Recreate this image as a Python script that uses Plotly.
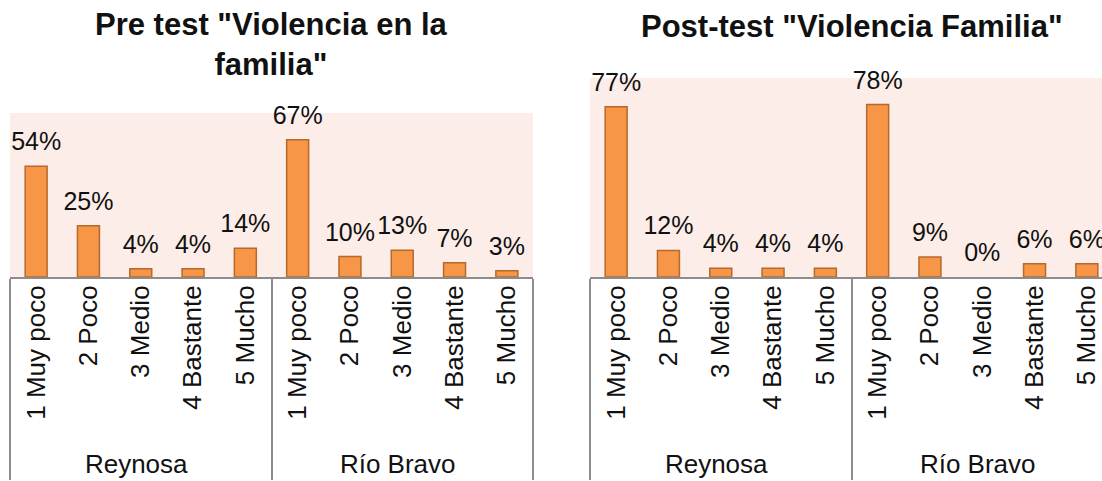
import plotly.graph_objects as go

# ---- data ----
groups = ["Reynosa"] * 5 + ["Río Bravo"] * 5
levels = ["1 Muy poco", "2 Poco", "3 Medio", "4 Bastante", "5 Mucho"] * 2
pre_values = [0.54, 0.25, 0.04, 0.04, 0.14, 0.67, 0.10, 0.13, 0.07, 0.03]
post_values = [0.77, 0.12, 0.04, 0.04, 0.04, 0.78, 0.09, 0.00, 0.06, 0.06]
pre_title = 'Pre test "Violencia en la<br>familia"'
post_title = 'Post-test "Violencia Familia"'

W, H = 1102, 481
FONT = "Liberation Sans, Arial, sans-serif"
BAR = "#F79646"
BAR_LINE = "#B5692C"
AXIS = "#8C8C8C"
TXT = "#111111"

fig = go.Figure()


def add_chart(values, xa, ya):
    fig.add_trace(go.Bar(
        x=[groups, levels], y=values, xaxis=xa, yaxis=ya, width=0.42,
        marker=dict(color=BAR, line=dict(color=BAR_LINE,
                                         width=[1.5 if v > 0 else 0 for v in values])),
        hoverinfo="skip", showlegend=False))
    fig.add_trace(go.Scatter(
        x=[groups, levels], y=values, xaxis=xa, yaxis=ya,
        mode="markers+text", text=[f"{round(v * 100)}%" for v in values],
        textposition="top center", marker=dict(size=14, opacity=0),
        textfont=dict(family=FONT, size=25, color=TXT),
        cliponaxis=False, hoverinfo="skip", showlegend=False))


add_chart(pre_values, "x", "y")
add_chart(post_values, "x2", "y2")

axis_x = dict(type="multicategory", showline=True, linecolor=AXIS, linewidth=2,
              ticks="", tickangle=-90, showgrid=False, zeroline=False,
              ticklabelstandoff=-4,
              tickfont=dict(family=FONT, size=26, color=TXT),
              showdividers=True, dividercolor=AXIS, dividerwidth=2)
axis_y = dict(showticklabels=False, showgrid=False, zeroline=False, showline=False, ticks="")

slot = 523 / 10
fig.update_layout(
    width=W, height=H,
    margin=dict(l=0, r=0, t=0, b=204),
    paper_bgcolor="white", plot_bgcolor="#FCEDE8",
    xaxis=dict(axis_x, domain=[10 / W, 533 / W], anchor="y", range=[-0.5, 9.5]),
    yaxis=dict(axis_y, domain=[0, 164 / 277], range=[0, 0.8]),
    xaxis2=dict(axis_x, domain=[590 / W, 1.0], anchor="y2",
                range=[-0.5, 9.5 - (590 + 523 - W) / slot]),
    yaxis2=dict(axis_y, domain=[0, 199 / 277], range=[0, 0.9]),
    annotations=[
        dict(text=pre_title, xref="paper", yref="paper", x=271.5 / W, y=(277 - 44) / 277,
             xanchor="center", yanchor="middle", showarrow=False,
             font=dict(family=FONT, size=31, color=TXT, weight="bold")),
        dict(text=post_title, xref="paper", yref="paper", x=851.5 / W, y=(277 - 26) / 277,
             xanchor="center", yanchor="middle", showarrow=False,
             font=dict(family=FONT, size=31, color=TXT, weight="bold")),
    ],
)

fig.write_html("out.html", config={"displayModeBar": False},
               post_script="document.body.style.margin='0px';document.body.style.overflow='hidden';")
